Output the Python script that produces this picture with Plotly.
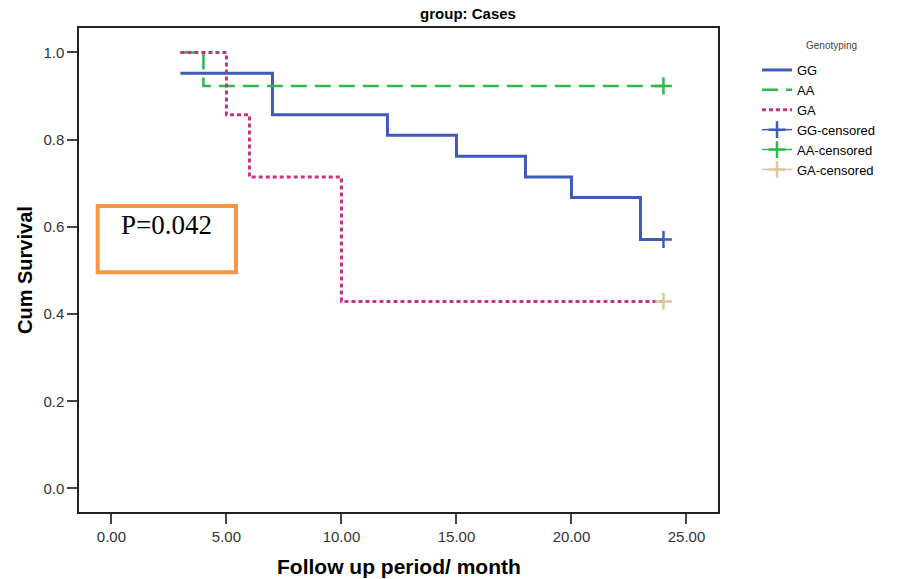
import plotly.graph_objects as go

# ---- data ----
gg_time = [3, 7, 12, 15, 18, 20, 23, 24]
gg_surv = [0.952, 0.857, 0.810, 0.762, 0.714, 0.667, 0.571, 0.571]
aa_time = [3, 4, 24]
aa_surv = [1.0, 0.923, 0.923]
ga_time = [3, 5, 6, 10, 24]
ga_surv = [1.0, 0.857, 0.714, 0.429, 0.429]

gg_cens_time = [24]
gg_cens_surv = [0.571]
aa_cens_time = [24]
aa_cens_surv = [0.923]
ga_cens_time = [24]
ga_cens_surv = [0.429]

x_ticks = [0, 5, 10, 15, 20, 25]
y_ticks = [0.0, 0.2, 0.4, 0.6, 0.8, 1.0]

BLUE = "#3E5BB8"
GREEN = "#2DB84B"
PINK = "#C7337F"
TAN = "#D8C89A"
FONT = "Liberation Sans, Arial, sans-serif"

W, H = 917, 579
ML, MR, MT, MB = 79, 199, 28, 67

fig = go.Figure()
fig.add_trace(go.Scatter(x=gg_time, y=gg_surv, mode="lines", line_shape="hv",
                         line=dict(color=BLUE, width=3), name="GG"))
fig.add_trace(go.Scatter(x=aa_time, y=aa_surv, mode="lines", line_shape="hv",
                         line=dict(color=GREEN, width=2.5, dash="16px,8px"), name="AA"))
fig.add_trace(go.Scatter(x=ga_time, y=ga_surv, mode="lines", line_shape="hv",
                         line=dict(color=PINK, width=3, dash="4px,3px"), name="GA"))

for t, s, c, n in [(gg_cens_time, gg_cens_surv, BLUE, "GG-censored"),
                   (aa_cens_time, aa_cens_surv, GREEN, "AA-censored"),
                   (ga_cens_time, ga_cens_surv, TAN, "GA-censored")]:
    fig.add_trace(go.Scatter(x=t, y=s, mode="lines+markers", name=n,
                             line=dict(color=c, width=1.5),
                             marker=dict(symbol="cross-thin", size=12, color=c,
                                         line=dict(color=c, width=2.5))))

# pixel -> paper coordinate helpers
pw = W - ML - MR
ph = H - MT - MB
def px(xp):
    return (xp - ML) / pw
def py(yp):
    return (H - MB - yp) / ph

# P-value box
fig.add_shape(type="rect", xref="paper", yref="paper",
              x0=px(97.7), x1=px(236), y0=py(272.3), y1=py(206),
              line=dict(color="#F79646", width=4), fillcolor="rgba(0,0,0,0)")
fig.add_annotation(xref="paper", yref="paper", x=px(166.7), y=py(225),
                   text="P=0.042", showarrow=False, xanchor="center", yanchor="middle",
                   font=dict(family="Liberation Serif, Times New Roman, serif", size=27, color="black"))

# legend title
fig.add_annotation(xref="paper", yref="paper", x=px(832), y=py(45),
                   text="Genotyping", showarrow=False, xanchor="center", yanchor="middle",
                   font=dict(family=FONT, size=10, color="#444"))

# axis titles
fig.add_annotation(xref="paper", yref="paper", x=0.5, y=py(566),
                   text="<b>Follow up period/ month</b>", showarrow=False,
                   xanchor="center", yanchor="middle",
                   font=dict(family=FONT, size=21, color="black"))
fig.add_annotation(xref="paper", yref="paper", x=px(25), y=0.5,
                   text="<b>Cum Survival</b>", showarrow=False, textangle=-90,
                   xanchor="center", yanchor="middle",
                   font=dict(family=FONT, size=20, color="black"))

axis_common = dict(showgrid=False, zeroline=False, showline=True, mirror=True,
                   linecolor="#222", linewidth=1.5, ticks="outside", ticklen=10,
                   tickwidth=2, tickcolor="#444",
                   tickfont=dict(family=FONT, size=15, color="#333"))

fig.update_layout(
    width=W, height=H,
    margin=dict(l=ML, r=MR, t=MT, b=MB, autoexpand=False),
    paper_bgcolor="white", plot_bgcolor="white",
    title=dict(text="<b>group: Cases</b>", xref="container", yref="container",
               x=468 / W, y=1 - 14 / H, xanchor="center", yanchor="middle",
               font=dict(family=FONT, size=15, color="black")),
    xaxis=dict(range=[-1.41, 26.37], tickvals=x_ticks, tickformat=".2f", **axis_common),
    yaxis=dict(range=[-0.054, 1.056], tickvals=y_ticks, tickformat=".1f", **axis_common),
    legend=dict(xref="container", yref="container", x=757 / W, y=1 - 55 / H,
                xanchor="left", yanchor="top", bgcolor="rgba(0,0,0,0)",
                font=dict(family=FONT, size=13, color="black"),
                tracegroupgap=0),
    showlegend=True,
)

fig.write_html("out.html", config={"displayModeBar": False},
               post_script="document.body.style.margin='0px';")
